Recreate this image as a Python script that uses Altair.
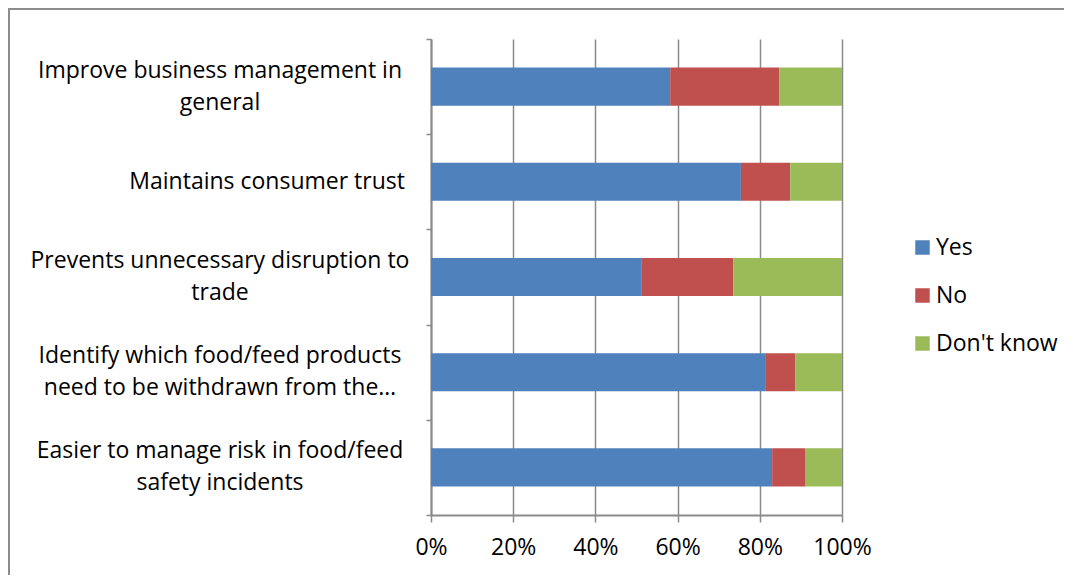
import altair as alt
import pandas as pd

categories = [
    "Improve business management in\ngeneral",
    "Maintains consumer trust",
    "Prevents unnecessary disruption to\ntrade",
    "Identify which food/feed products\nneed to be withdrawn from the…",
    "Easier to manage risk in food/feed\nsafety incidents",
]
series = ["Yes", "No", "Don't know"]
yes_vals = [58.2, 75.4, 51.3, 81.3, 83.0]
no_vals = [26.5, 12.0, 22.3, 7.3, 8.0]
dk_vals = [15.3, 12.6, 26.4, 11.4, 9.0]
colors = ["#4F81BD", "#C0504D", "#9BBB59"]

rows = []
for i, c in enumerate(categories):
    for j, (s, vals) in enumerate(zip(series, [yes_vals, no_vals, dk_vals])):
        rows.append({"category": c, "series": s, "value": vals[i], "order": j})
df = pd.DataFrame(rows)
cat_df = pd.DataFrame({"category": categories})

GRID = "#8a8a8a"
FONT = "Open Sans"
FS = 23

y_enc = alt.Y(
    "category:N",
    sort=categories,
    scale=alt.Scale(paddingInner=0, paddingOuter=0),
    axis=alt.Axis(
        title=None,
        labels=False,
        tickBand="extent",
        tickSize=5,
        tickColor=GRID,
        tickWidth=1.5,
        domainColor=GRID,
        domainWidth=2,
        grid=False,
    ),
)

bars = alt.Chart(df).mark_bar(height=alt.RelativeBandSize(0.4)).encode(
    y=y_enc,
    x=alt.X(
        "value:Q",
        stack="normalize",
        scale=alt.Scale(domain=[0, 1], nice=False),
        axis=alt.Axis(
            title=None,
            values=[0, 0.2, 0.4, 0.6, 0.8, 1.0],
            format=".0%",
            labelFontSize=FS,
            labelColor="#000000",
            labelPadding=14,
            labelFlush=False,
            labelOverlap=False,
            tickSize=7,
            tickColor=GRID,
            tickWidth=1.5,
            domainColor=GRID,
            domainWidth=2,
            grid=True,
            gridColor=GRID,
            gridWidth=1.5,
        ),
    ),
    color=alt.Color(
        "series:N",
        sort=series,
        scale=alt.Scale(domain=series, range=colors),
        legend=alt.Legend(
            title=None,
            orient="none",
            legendX=480,
            legendY=197,
            symbolType="square",
            symbolSize=210,
            symbolStrokeWidth=0,
            labelFontSize=FS,
            labelColor="#000000",
            labelOffset=2,
            labelLimit=300,
            rowPadding=24,
        ),
    ),
    order=alt.Order("order:Q"),
)

base_text = alt.Chart(cat_df).transform_calculate(
    lines="split(datum.category, '\\n')",
    multi="indexof(datum.category, '\\n') >= 0",
)

multi_labels = base_text.transform_filter("datum.multi").mark_text(
    align="center", baseline="middle", fontSize=FS, lineHeight=32, dy=-16, color="#000000"
).encode(
    y=alt.Y("category:N", sort=categories),
    x=alt.value(-211),
    text="lines:N",
)

single_labels = base_text.transform_filter("!datum.multi").mark_text(
    align="right", baseline="middle", fontSize=FS, color="#000000"
).encode(
    y=alt.Y("category:N", sort=categories),
    x=alt.value(-26),
    text="lines:N",
)

frame = alt.Chart(pd.DataFrame({"a": [0]})).mark_rect(
    fill="transparent", stroke="#8c8c8c", strokeWidth=2
).encode(
    x=alt.value(-422),
    x2=alt.value(800),
    y=alt.value(-30),
    y2=alt.value(700),
)

chart = alt.layer(frame, bars, multi_labels, single_labels).properties(
    width=411,
    height=476,
    autosize=alt.AutoSizeParams(type="none"),
    padding={"left": 423, "top": 31, "right": 222, "bottom": 60},
).configure(font=FONT).configure_view(strokeWidth=0)

chart.save("out.html", embed_options={"renderer": "svg", "actions": False})
